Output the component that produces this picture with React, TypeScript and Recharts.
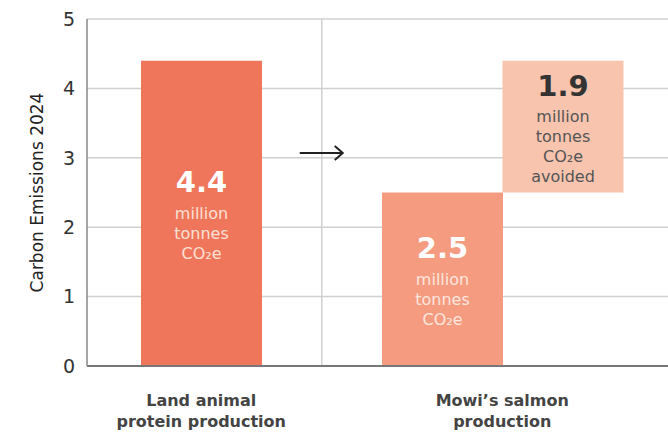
import React from "react";
import {
  Bar,
  BarChart,
  CartesianGrid,
  Cell,
  LabelList,
  ReferenceDot,
  ReferenceLine,
  XAxis,
  YAxis
} from "recharts";

// bands along the x axis: one bar per band, the "gap" band holds the arrow
const bandKeys = ["land", "gap", "salmon", "avoided"];
const groupLabels: Record<string, string[]> = {
  land: ["Land animal", "protein production"],
  salmon: ["Mowi\u2019s salmon", "production"]
};

// million tonnes CO2e
const landEmissions = 4.4;
const salmonEmissions = 2.5;
const avoidedEmissions = 1.9;

const valueLabels = ["4.4", "", "2.5", "1.9"];
const unitLines = [
  ["million", "tonnes", "CO\u2082e"],
  [],
  ["million", "tonnes", "CO\u2082e"],
  ["million", "tonnes", "CO\u2082e", "avoided"]
];
const yTicks = [0, 1, 2, 3, 4, 5];
const arrowLevel = 3.07;

const barColors = ["#EF765A", "none", "#F49B80", "#F8C4AE"];
const bigColors = ["#FFFFFF", "", "#FFFFFF", "#333333"];
const smallColors = ["#FCE0D6", "", "#FDE6DE", "#555555"];

const FONT = "'DejaVu Sans', sans-serif";

const data = bandKeys.map((key, i) => ({
  key,
  range:
    key === "land"
      ? [0, landEmissions]
      : key === "salmon"
      ? [0, salmonEmissions]
      : key === "avoided"
      ? [salmonEmissions, salmonEmissions + avoidedEmissions]
      : null,
  idx: i
}));

const BarText = (props: any) => {
  const { x, y, width, height, value } = props;
  const index = Number(value);
  const lines = unitLines[index] || [];
  if (!valueLabels[index]) return null;
  const cx = x + width / 2;
  const cy = y + height / 2;
  const span = 31 + 20 * (lines.length - 1);
  const bigY = cy - span / 2 + 4.5;
  return (
    <g fontFamily={FONT} textAnchor="middle">
      <text x={cx} y={bigY} dy="0.35em" fontSize={29} fontWeight={700} fill={bigColors[index]}>
        {valueLabels[index]}
      </text>
      {lines.map((l, j) => (
        <text key={j} x={cx} y={bigY + 31 + 20 * j} dy="0.35em" fontSize={16} fill={smallColors[index]}>
          {l}
        </text>
      ))}
    </g>
  );
};

const GroupTick = (props: any) => {
  const { x, y, payload } = props;
  const lines = groupLabels[payload.value];
  if (!lines) return null;
  // the salmon label sits under the pair of salmon bars
  const shift = payload.value === "salmon" ? 60 : 0;
  return (
    <g fontFamily={FONT} textAnchor="middle" fontSize={16} fontWeight={700} fill="#444">
      {lines.map((l, j) => (
        <text key={j} x={x + shift} y={y + 26 + 21 * j} dy="0.35em">
          {l}
        </text>
      ))}
    </g>
  );
};

const Arrow = (props: any) => {
  const { cx, cy } = props;
  return (
    <g stroke="#222" strokeWidth={2} fill="none">
      <line x1={cx - 22} y1={cy} x2={cx + 21} y2={cy} />
      <polyline points={`${cx + 13},${cy - 7} ${cx + 21},${cy} ${cx + 13},${cy + 7}`} />
    </g>
  );
};

export default function App() {
  return (
    <div style={{ position: "absolute", left: 0, top: 0, width: 668, height: 436, background: "#fff" }}>
      <BarChart
        width={668}
        height={436}
        data={data}
        margin={{ top: 19, right: 0, left: 0, bottom: 0 }}
        barCategoryGap={0}
        barGap={0}
      >
        <CartesianGrid vertical={false} stroke="#D0D0D0" strokeWidth={1.5} />
        <XAxis
          dataKey="key"
          height={70}
          padding={{ left: 54, right: 45 }}
          tickLine={false}
          axisLine={{ stroke: "#777", strokeWidth: 2 }}
          tick={<GroupTick />}
          interval={0}
        />
        <YAxis
          width={87}
          domain={[0, 5]}
          ticks={yTicks}
          tickLine={false}
          axisLine={{ stroke: "#888", strokeWidth: 1.5 }}
          tickMargin={6}
          tick={{ fontFamily: FONT, fontSize: 19, fill: "#333" }}
          label={{
            value: "Carbon Emissions 2024",
            angle: -90,
            position: "insideLeft",
            dx: 32,
            style: { fontFamily: FONT, fontSize: 17, fill: "#222", textAnchor: "middle" }
          }}
        />
        <ReferenceLine x="gap" stroke="#D0D0D0" strokeWidth={1.5} />
        <Bar dataKey="range" isAnimationActive={false}>
          {data.map((d, i) => (
            <Cell key={d.key} fill={barColors[i]} />
          ))}
          <LabelList dataKey="idx" content={<BarText />} />
        </Bar>
        <ReferenceDot x="gap" y={arrowLevel} r={0} shape={<Arrow />} />
      </BarChart>
    </div>
  );
}
